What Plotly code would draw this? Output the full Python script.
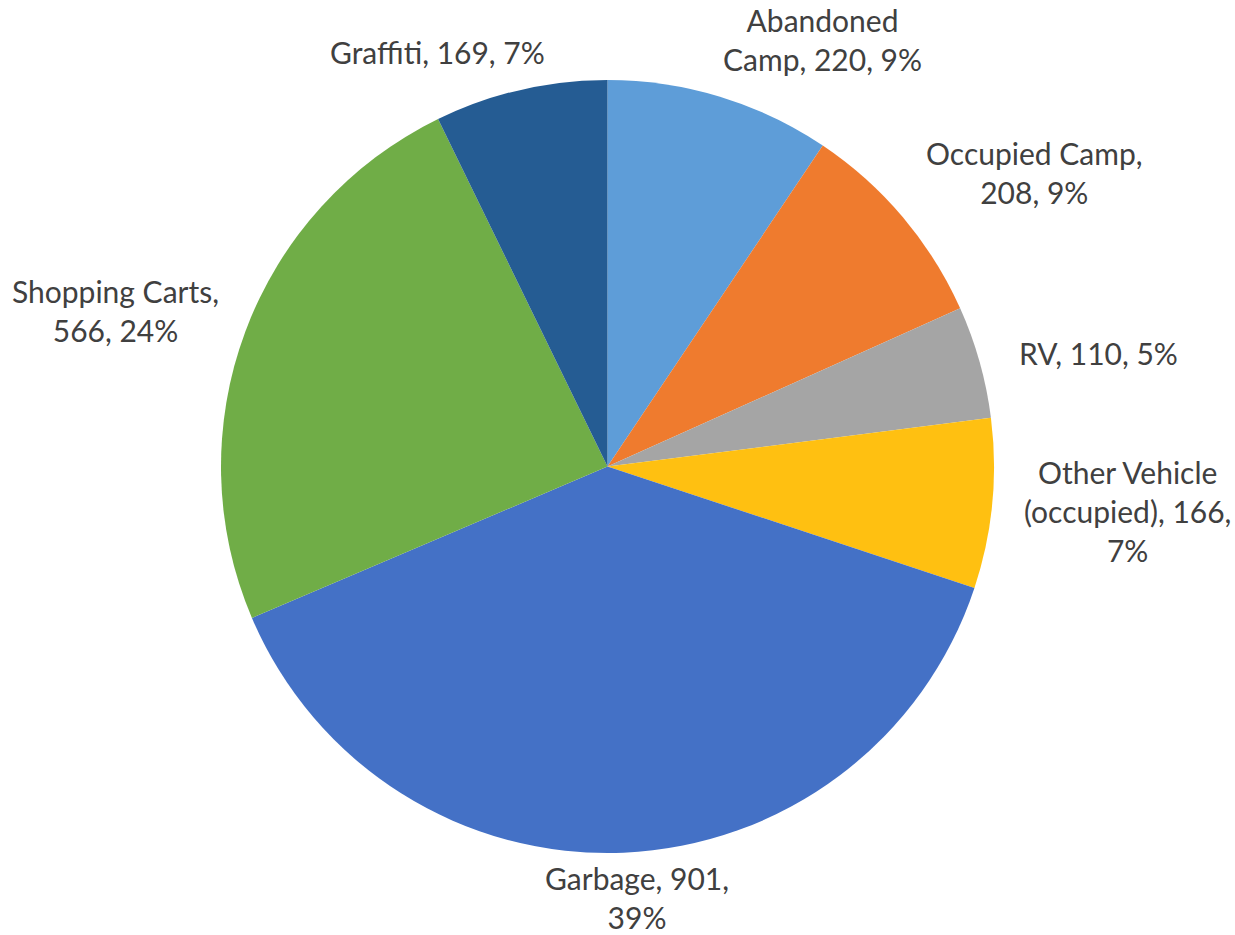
import plotly.graph_objects as go

categories = ["Abandoned Camp", "Occupied Camp", "RV", "Other Vehicle (occupied)",
              "Garbage", "Shopping Carts", "Graffiti"]
values = [220, 208, 110, 166, 901, 566, 169]
label_texts = ["Abandoned<br>Camp, 220, 9%", "Occupied Camp,<br>208, 9%", "RV, 110, 5%",
               "Other Vehicle<br>(occupied), 166,<br>7%", "Garbage, 901,<br>39%",
               "Shopping Carts,<br>566, 24%", "Graffiti, 169, 7%"]

colors = ["#5E9DD8", "#EF7B2E", "#A5A5A5", "#FFC011", "#4471C6", "#70AD47", "#255C93"]

W, H = 1235, 935
cx, cy, r = 607.5, 466.5, 386.5

fig = go.Figure(go.Pie(
    labels=categories, values=values, sort=False, direction="clockwise", rotation=0,
    marker=dict(colors=colors, line=dict(width=0)),
    textinfo="none", hoverinfo="label+value+percent", showlegend=False,
    domain=dict(x=[(cx - r) / W, (cx + r) / W], y=[1 - (cy + r) / H, 1 - (cy - r) / H]),
))

# label centers in pixels
label_pos = [(822, 40), (1034, 172), (1098, 353), (1127, 511), (637, 897), (115, 310), (437, 52)]
for t, (px, py) in zip(label_texts, label_pos):
    fig.add_annotation(x=px / W, y=1 - py / H, xref="paper", yref="paper", text=t,
                       showarrow=False, xanchor="center", yanchor="middle", align="center",
                       font=dict(family="Lato", size=30, color="#404040"))

fig.update_layout(width=W, height=H, margin=dict(l=0, r=0, t=0, b=0),
                  paper_bgcolor="white", plot_bgcolor="white")
fig.write_html("out.html", post_script="document.body.style.margin='0';",
               config={"displayModeBar": False})
